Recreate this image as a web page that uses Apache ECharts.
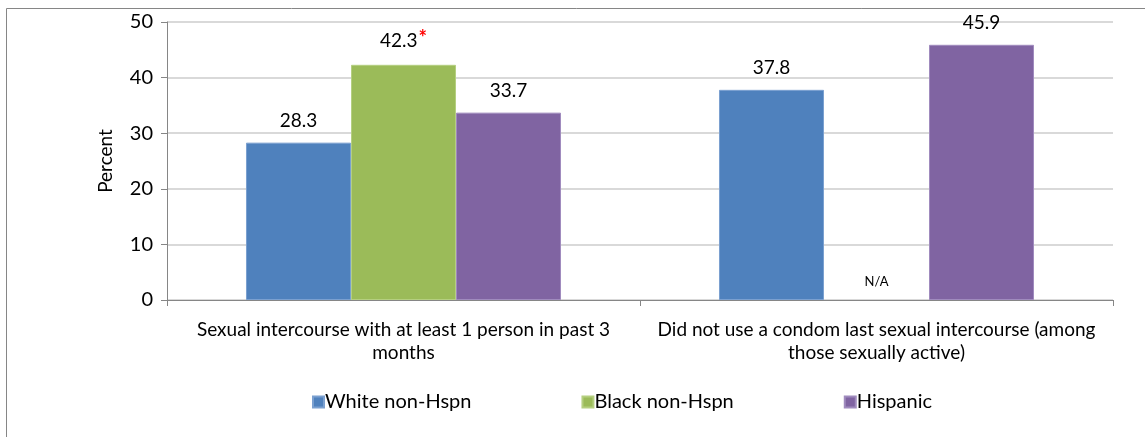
<!DOCTYPE html>
<html>
<head>
<meta charset="utf-8">
<script src="https://cdn.jsdelivr.net/npm/echarts@6/dist/echarts.min.js"></script>
<style>html,body{margin:0;padding:0;background:#fff;}#c{width:1145px;height:437px;}</style>
</head>
<body>
<div id="c"></div>
<script>
const categories = [
  'Sexual intercourse with at least 1 person in past 3\nmonths',
  'Did not use a condom last sexual intercourse (among\nthose sexually active)'
];
const seriesNames = ['White non-Hspn', 'Black non-Hspn', 'Hispanic'];
const whiteValues = [28.3, 37.8];
const blackValues = [42.3, null];
const hispanicValues = [33.7, 45.9];
const significant = [[false, false], [true, false], [false, false]];
const yTicks = [0, 10, 20, 30, 40, 50];

const FONT = 'Lato, "Open Sans", sans-serif';
const colors = ['#4F81BD', '#9BBB59', '#8064A2'];
const borders = ['#7BA0D0', '#B5CF80', '#A08BBE'];

function makeSeries(idx, values) {
  return {
    name: seriesNames[idx],
    type: 'bar',
    barGap: '0%',
    barCategoryGap: '33.4%',
    itemStyle: { color: colors[idx], borderColor: borders[idx], borderWidth: 1 },
    data: values.map(v => v === null
      ? { value: 0, na: true, itemStyle: { color: 'rgba(0,0,0,0)', borderWidth: 0 } }
      : v),
    label: {
      show: true,
      position: 'top',
      distance: 12,
      fontFamily: FONT,
      fontSize: 19,
      color: '#000',
      formatter: p => {
        if (p.data && p.data.na) return '{na|N/A}';
        return significant[idx][p.dataIndex] ? p.value.toFixed(1) + '{r|*}' : p.value.toFixed(1);
      },
      rich: {
        r: { color: '#FF0000', fontSize: 20, fontWeight: 'bold', fontFamily: FONT, verticalAlign: 'top', padding: [0, 0, 4, 1] },
        na: { fontSize: 13, fontFamily: FONT, color: '#000' }
      }
    }
  };
}

const chart = echarts.init(document.getElementById('c'), null, { renderer: 'canvas' });
chart.setOption({
  animation: false,
  backgroundColor: '#fff',
  graphic: [{
    type: 'rect', z: -10, silent: true,
    shape: { x: 6.5, y: 8.5, width: 1300, height: 600 },
    style: { fill: 'none', stroke: '#868686', lineWidth: 1 }
  }],
  grid: { left: 167, right: 32, top: 22, bottom: 137, containLabel: false },
  legend: {
    data: seriesNames,
    left: 312,
    top: 392,
    padding: 0,
    itemWidth: 11,
    itemHeight: 11,
    itemGap: 110,
    icon: 'rect',
    textStyle: { fontFamily: FONT, fontSize: 20, color: '#000', padding: [0, 0, 0, -4] }
  },
  xAxis: {
    type: 'category',
    data: categories,
    axisLine: { lineStyle: { color: '#868686', width: 1 } },
    axisTick: { show: true, length: 6, lineStyle: { color: '#868686' } },
    axisLabel: { fontFamily: FONT, fontSize: 19, color: '#000', lineHeight: 23, margin: 18, interval: 0 },
    splitLine: { show: false }
  },
  yAxis: {
    type: 'value',
    min: 0, max: 50, interval: 10,
    name: 'Percent',
    nameLocation: 'middle',
    nameGap: 52,
    nameTextStyle: { fontFamily: FONT, fontSize: 19, color: '#000' },
    axisLine: { show: true, lineStyle: { color: '#868686' } },
    axisTick: { show: true, inside: false, length: 6, lineStyle: { color: '#868686' } },
    axisLabel: { fontFamily: FONT, fontSize: 20, color: '#000', margin: 14 },
    splitLine: { lineStyle: { color: '#D9D9D9', width: 2 } }
  },
  series: [makeSeries(0, whiteValues), makeSeries(1, blackValues), makeSeries(2, hispanicValues)]
});
</script>
</body>
</html>
